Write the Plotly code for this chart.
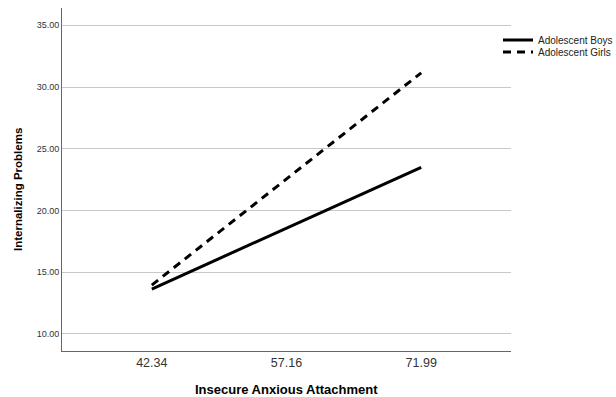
import plotly.graph_objects as go

categories = ["42.34", "57.16", "71.99"]
boys = [13.64, None, 23.5]
girls = [13.96, None, 31.15]
y_ticks = [10, 15, 20, 25, 30, 35]

W, H = 616, 397
L, R, T, B = 62, 105, 8, 46
PH = H - T - B
PW = W - L - R

fig = go.Figure()
fig.add_trace(go.Scatter(x=[categories[0], categories[2]], y=[boys[0], boys[2]], mode="lines",
                         name="Adolescent Boys", line=dict(color="black", width=3), legend="legend"))
fig.add_trace(go.Scatter(x=[categories[0], categories[2]], y=[girls[0], girls[2]], mode="lines",
                         name="Adolescent Girls", line=dict(color="black", width=3, dash="8px,6px"),
                         legend="legend2"))

leg_common = dict(xanchor="left", yanchor="middle", font=dict(size=10, color="#222"),
                  itemwidth=30, bgcolor="rgba(0,0,0,0)", borderwidth=0)

fig.update_layout(
    width=W, height=H,
    margin=dict(l=L, r=R, t=T, b=B, autoexpand=False),
    plot_bgcolor="white", paper_bgcolor="white",
    font=dict(family="Liberation Sans, Arial", color="black"),
    showlegend=True,
    legend=dict(x=(498 - L) / PW, y=1 - (40 - T) / PH, **leg_common),
    legend2=dict(x=(498 - L) / PW, y=1 - (52 - T) / PH, **leg_common),
    xaxis=dict(type="category", categoryorder="array", categoryarray=categories,
               range=[-2/3, 2 + 2/3], showgrid=False, showline=True, linecolor="#666",
               linewidth=1, ticks="", tickfont=dict(size=12.5, color="#333"), automargin=False),
    yaxis=dict(range=[8.62, 36.4], tickvals=y_ticks, ticktext=[f"{v:.2f}" for v in y_ticks],
               showgrid=True, gridcolor="#c8c8c8", gridwidth=1, zeroline=False, automargin=False,
               showline=True, linecolor="#666", linewidth=1, ticks="",
               tickfont=dict(size=9, color="#333")),
    annotations=[
        dict(text="<b>Insecure Anxious Attachment</b>", xref="paper", yref="paper",
             x=0.5, y=-(389 - T - PH) / PH, xanchor="center", yanchor="middle",
             showarrow=False, font=dict(size=13, color="black")),
        dict(text="<b>Internalizing Problems</b>", xref="paper", yref="paper",
             x=(18 - L) / PW, y=1 - (190 - T) / PH, xanchor="center", yanchor="middle",
             textangle=-90, showarrow=False, font=dict(size=11.5, color="black")),
    ],
)
fig.write_html(
    "out.html",
    config={"displayModeBar": False},
    post_script="document.body.style.margin='0';document.body.style.overflow='hidden';"
                "document.documentElement.style.overflow='hidden';",
)
